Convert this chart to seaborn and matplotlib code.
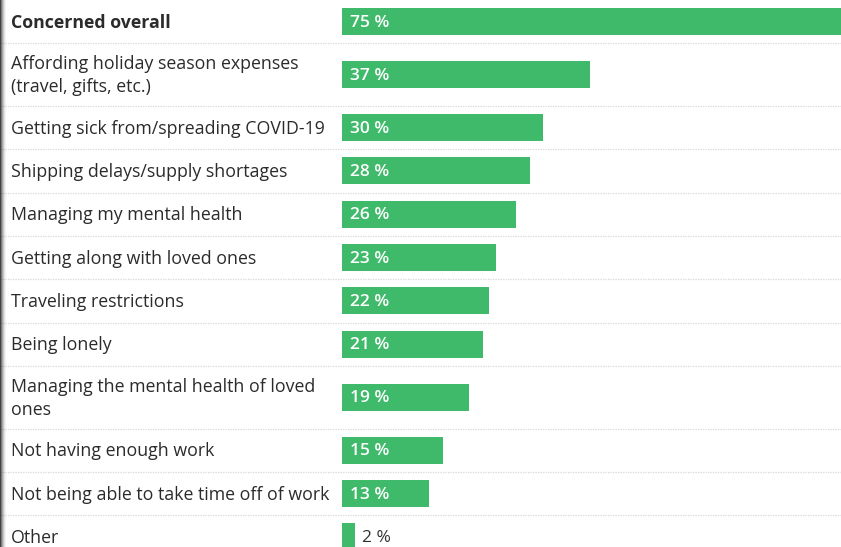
import numpy as np
import pandas as pd
import matplotlib
matplotlib.use("Agg")
import matplotlib.pyplot as plt
import seaborn as sns

categories = [
    "Concerned overall",
    "Affording holiday season expenses\n(travel, gifts, etc.)",
    "Getting sick from/spreading COVID-19",
    "Shipping delays/supply shortages",
    "Managing my mental health",
    "Getting along with loved ones",
    "Traveling restrictions",
    "Being lonely",
    "Managing the mental health of loved\nones",
    "Not having enough work",
    "Not being able to take time off of work",
    "Other",
]
values = [75, 37, 30, 28, 26, 23, 22, 21, 19, 15, 13, 2]
value_labels = ["75 %", "37 %", "30 %", "28 %", "26 %", "23 %", "22 %", "21 %",
                "19 %", "15 %", "13 %", "2 %"]

sns.set_theme(style="white")
plt.rcParams["font.family"] = ["Open Sans", "DejaVu Sans"]

W, H = 841, 547
fig = plt.figure(figsize=(W / 100, H / 100), dpi=100)
ax = fig.add_axes([0, 0, 1, 1])

# row heights in pixel units: single-line vs two-line rows
ROW1, ROW2 = 43.33, 62.67
heights = [ROW1 if "\n" not in c else ROW2 for c in categories]
edges = np.concatenate([[0], np.cumsum(heights)])
centers = (edges[:-1] + edges[1:]) / 2

df = pd.DataFrame({"pos": centers, "value": values})

px_per_pct = 6.7
x0 = 342
xmin = -x0 / px_per_pct
xmax = (W - x0) / px_per_pct

sns.barplot(data=df, x="value", y="pos", orient="h", native_scale=True,
            color="#3FBA6A", saturation=1, width=27 / ROW1, ax=ax,
            edgecolor="none", linewidth=0)

ax.set_xlim(xmin, xmax)
ax.set_ylim(H, 0)
ax.axis("off")

# separators
for e in edges[1:-1]:
    ax.plot([xmin, xmax], [e, e], color="#d8d8d8", lw=0.9, ls=(0, (1, 1)))

# labels
for i, (c, v, vl, y) in enumerate(zip(categories, values, value_labels, centers)):
    ax.text(xmin + 11 / px_per_pct, y + 1, c, ha="left", va="center", fontsize=12.8,
            color="#2b2b2b", fontweight="bold" if i == 0 else "normal",
            linespacing=1.4)
    if v >= 5:
        ax.text(8 / px_per_pct, y + 1, vl, ha="left", va="center", fontsize=12.5,
                color="white", fontweight="semibold")
    else:
        ax.text(v + 7 / px_per_pct, y + 1, vl, ha="left", va="center", fontsize=12.5,
                color="#333333")

# left edge shadow
for k, a in enumerate([0.85, 0.6, 0.4, 0.25, 0.12, 0.05]):
    fig.patches.append(plt.Rectangle((k / W, 0), 1 / W, 1, transform=fig.transFigure,
                                     color="#222222", alpha=a, lw=0))

fig.savefig("out.png", dpi=100)
